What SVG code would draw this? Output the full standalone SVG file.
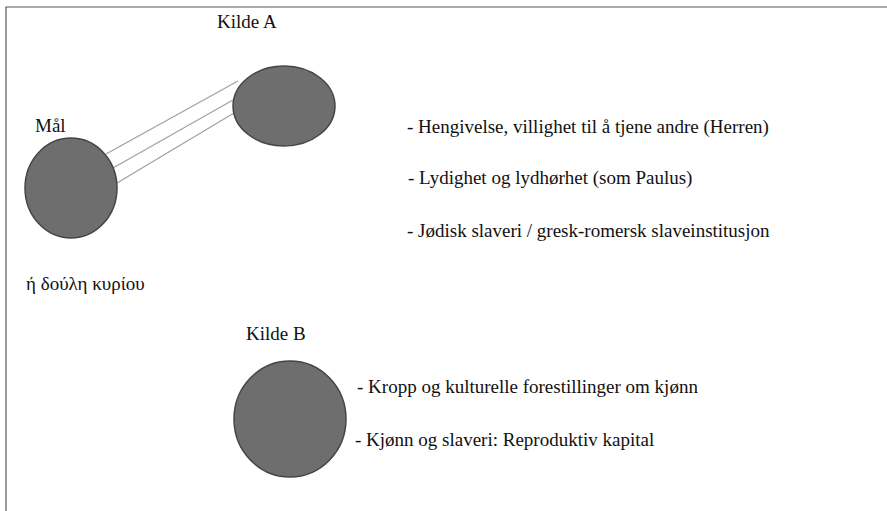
<svg xmlns="http://www.w3.org/2000/svg" width="887" height="511" viewBox="0 0 887 511">
<style>
.node{fill:#6e6e6e;stroke:#454545;stroke-width:1.5}
.c{stroke:#a0a0a0;stroke-width:1.2;fill:none}
text{font-family:'Liberation Serif','Times New Roman',serif;font-size:19px;fill:#111}
</style>
<rect width="887" height="511" fill="#fff"/>
<path d="M6,511 V7 H887" fill="none" stroke="#555" stroke-width="1.2"/>
<g id="connectors">
<line class="c" x1="106" y1="154" x2="238" y2="81"/>
<line class="c" x1="113" y1="168" x2="233" y2="100"/>
<line class="c" x1="117" y1="183" x2="234" y2="113"/>
</g>
<g id="mal">
<ellipse class="node" cx="71" cy="188" rx="46" ry="50"/>
<text x="35" y="132">Mål</text>
<text x="26" y="290">ή δούλη κυρίου</text>
</g>
<g id="kildeA">
<ellipse class="node" cx="284" cy="106" rx="51" ry="40"/>
<text x="217" y="28">Kilde A</text>
</g>
<g id="kildeA-list">
<text x="407" y="133">- Hengivelse, villighet til å tjene andre (Herren)</text>
<text x="408" y="184">- Lydighet og lydhørhet (som Paulus)</text>
<text x="407" y="237">- Jødisk slaveri / gresk-romersk slaveinstitusjon</text>
</g>
<g id="kildeB">
<ellipse class="node" cx="290" cy="419" rx="56" ry="58"/>
<text x="246" y="340">Kilde B</text>
</g>
<g id="kildeB-list">
<text x="357" y="393">- Kropp og kulturelle forestillinger om kjønn</text>
<text x="355" y="446">- Kjønn og slaveri: Reproduktiv kapital</text>
</g>
</svg>
